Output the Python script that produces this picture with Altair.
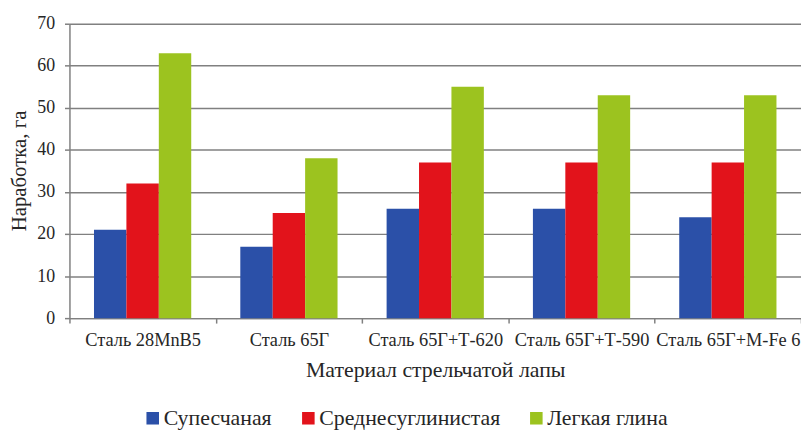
import altair as alt
import pandas as pd

categories = ["Сталь 28MnB5", "Сталь 65Г", "Сталь 65Г+Т-620", "Сталь 65Г+Т-590", "Сталь 65Г+М-Fe 6"]
series = ["Супесчаная", "Среднесуглинистая", "Легкая глина"]
supeschanaya = [21, 17, 26, 26, 24]
srednesuglinistaya = [32, 25, 37, 37, 37]
legkaya_glina = [63, 38, 55, 53, 53]
colors = ["#2B50A8", "#E2131B", "#9CC31F"]

rows = []
for name, vals in zip(series, [supeschanaya, srednesuglinistaya, legkaya_glina]):
    for c, v in zip(categories, vals):
        rows.append({"cat": c, "series": name, "value": v})
df = pd.DataFrame(rows)

FONT = "Liberation Serif"
TXT = "#262626"
GRID = "#808080"

chart = alt.Chart(df).mark_bar().encode(
    x=alt.X("cat:N", sort=categories,
            scale=alt.Scale(paddingInner=0, paddingOuter=0),
            axis=alt.Axis(title="Материал стрельчатой лапы", labelAngle=0,
                          tickBand="extent", grid=False,
                          labelFont=FONT, labelFontSize=18.5, labelColor=TXT,
                          labelPadding=8, tickSize=5, tickColor=GRID, tickWidth=1.5,
                          domainColor=GRID, domainWidth=1.5,
                          titleFont=FONT, titleFontSize=22, titleFontWeight="normal",
                          titleColor=TXT, titleY=52, titleBaseline="middle")),
    xOffset=alt.XOffset("series:N", sort=series,
                        scale=alt.Scale(paddingInner=0, paddingOuter=0.757)),
    y=alt.Y("value:Q", scale=alt.Scale(domain=[0, 70]),
            axis=alt.Axis(title="Наработка, га", values=[0, 10, 20, 30, 40, 50, 60, 70],
                          labelFont=FONT, labelFontSize=18, labelColor=TXT,
                          labelPadding=10, tickSize=5, tickColor=GRID, tickWidth=1.5,
                          domainColor=GRID, domainWidth=1.5,
                          gridColor=GRID, gridWidth=1.5,
                          titleFont=FONT, titleFontSize=21, titleFontWeight="normal",
                          titleColor=TXT, titleAngle=-90, titleX=-50, titleY=148,
                          titleBaseline="middle", titleAlign="center")),
    color=alt.Color("series:N", sort=series,
                    scale=alt.Scale(domain=series, range=colors),
                    legend=alt.Legend(title=None, orient="none", direction="horizontal",
                                      legendX=73, legendY=387,
                                      symbolType="square", symbolSize=160,
                                      symbolStrokeWidth=0, labelOffset=0,
                                      columnPadding=25, labelLimit=400,
                                      labelFont=FONT, labelFontSize=22, labelColor=TXT)),
).properties(
    width=738, height=297,
    autosize=alt.AutoSizeParams(type="none"),
    padding={"left": 62, "top": 14, "right": 0, "bottom": 112},
).configure_view(stroke=None)

chart.save("out.html", embed_options={"renderer": "svg", "actions": False})
